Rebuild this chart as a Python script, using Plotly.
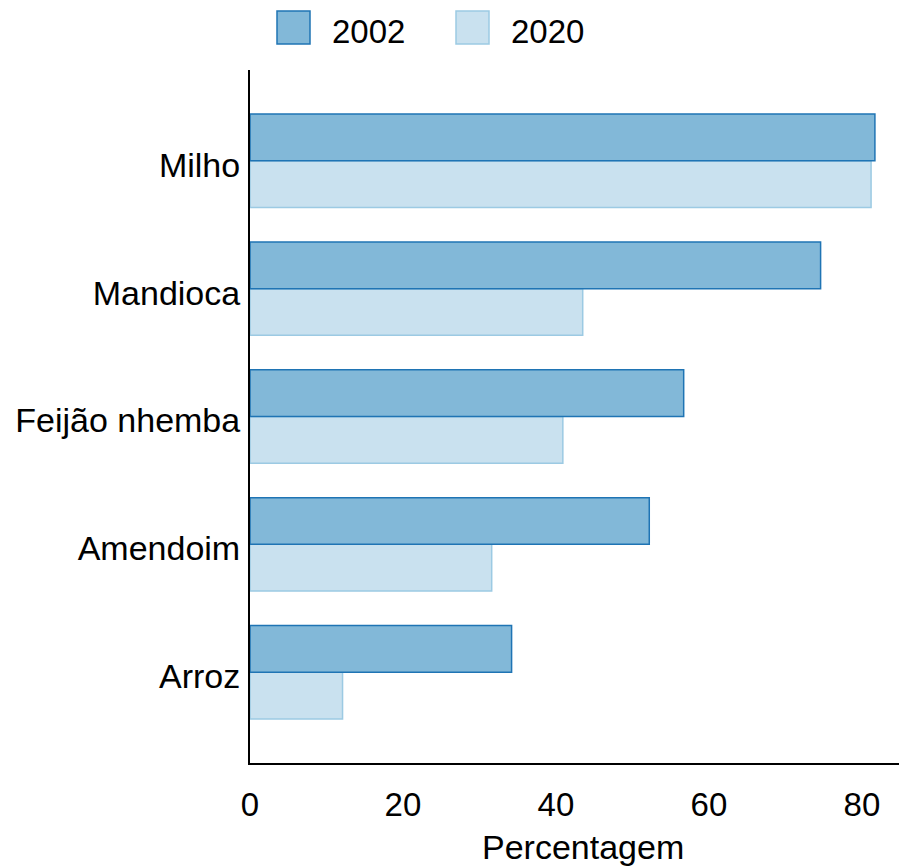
import plotly.graph_objects as go

categories = ["Arroz", "Amendoim", "Feijão nhemba", "Mandioca", "Milho"]
values_2002 = [34.2, 52.2, 56.7, 74.6, 81.7]
values_2020 = [12.1, 31.6, 40.9, 43.5, 81.2]
series_names = ["2002", "2020"]
x_ticks = [0, 20, 40, 60, 80]

fill_2002 = "#82b8d8"
line_2002 = "#1f74b4"
fill_2020 = "#c9e1ef"
line_2020 = "#9ccae3"

FONT = "Liberation Sans, Arial, sans-serif"
FS_Y = 34
FS_X = 33
FS_LEG = 33

fig = go.Figure()
fig.add_trace(go.Bar(y=categories, x=values_2020, orientation="h", name=series_names[1],
                     marker=dict(color=fill_2020, line=dict(color=line_2020, width=1.5)),
                     showlegend=False))
fig.add_trace(go.Bar(y=categories, x=values_2002, orientation="h", name=series_names[0],
                     marker=dict(color=fill_2002, line=dict(color=line_2002, width=1.5)),
                     showlegend=False))

H, W = 867, 899
L, R, T, B = 250, 0, 70, 104
pw, ph = W - L - R, H - T - B

def px_to_paper_x(px):
    return (px - L) / pw

def px_to_paper_y(py):
    return (H - B - py) / ph

legend_items = [(series_names[0], fill_2002, line_2002, 277), (series_names[1], fill_2020, line_2020, 456)]
for name, fc, lc, x0 in legend_items:
    fig.add_shape(type="rect", xref="paper", yref="paper",
                  x0=px_to_paper_x(x0), x1=px_to_paper_x(x0 + 33),
                  y0=px_to_paper_y(44), y1=px_to_paper_y(11),
                  fillcolor=fc, line=dict(color=lc, width=1.5))
    fig.add_annotation(xref="paper", yref="paper", x=px_to_paper_x(x0 + 53), y=px_to_paper_y(32),
                       text=name, showarrow=False, xanchor="left", yanchor="middle",
                       font=dict(family=FONT, size=FS_LEG, color="black"))

fig.add_annotation(xref="paper", yref="paper", x=px_to_paper_x(583), y=px_to_paper_y(847),
                   text="Percentagem", showarrow=False, xanchor="center", yanchor="middle",
                   borderpad=0,
                   font=dict(family=FONT, size=FS_Y, color="black"))

fig.update_layout(
    width=W, height=H,
    margin=dict(l=L, r=R, t=T, b=B, pad=0),
    paper_bgcolor="white", plot_bgcolor="white",
    barmode="group", bargap=0.27, bargroupgap=0,
    font=dict(family=FONT, size=FS_Y, color="black"),
    xaxis=dict(range=[0, 84.85], tickvals=x_ticks, ticktext=[str(v) for v in x_ticks],
               showgrid=False, zeroline=False, showline=True, linecolor="black", linewidth=2,
               ticks="", ticklabelstandoff=11, tickfont=dict(size=FS_X)),
    yaxis=dict(range=[-0.71, 4.71], showgrid=False, zeroline=False, showline=True,
               linecolor="black", linewidth=2, ticks="", ticklabelstandoff=1,
               ticklabelshift=4, tickfont=dict(size=FS_Y)),
)

fig.write_html("out.html", config={"displayModeBar": False},
               post_script="document.body.style.margin='0';document.body.style.overflow='hidden';")
